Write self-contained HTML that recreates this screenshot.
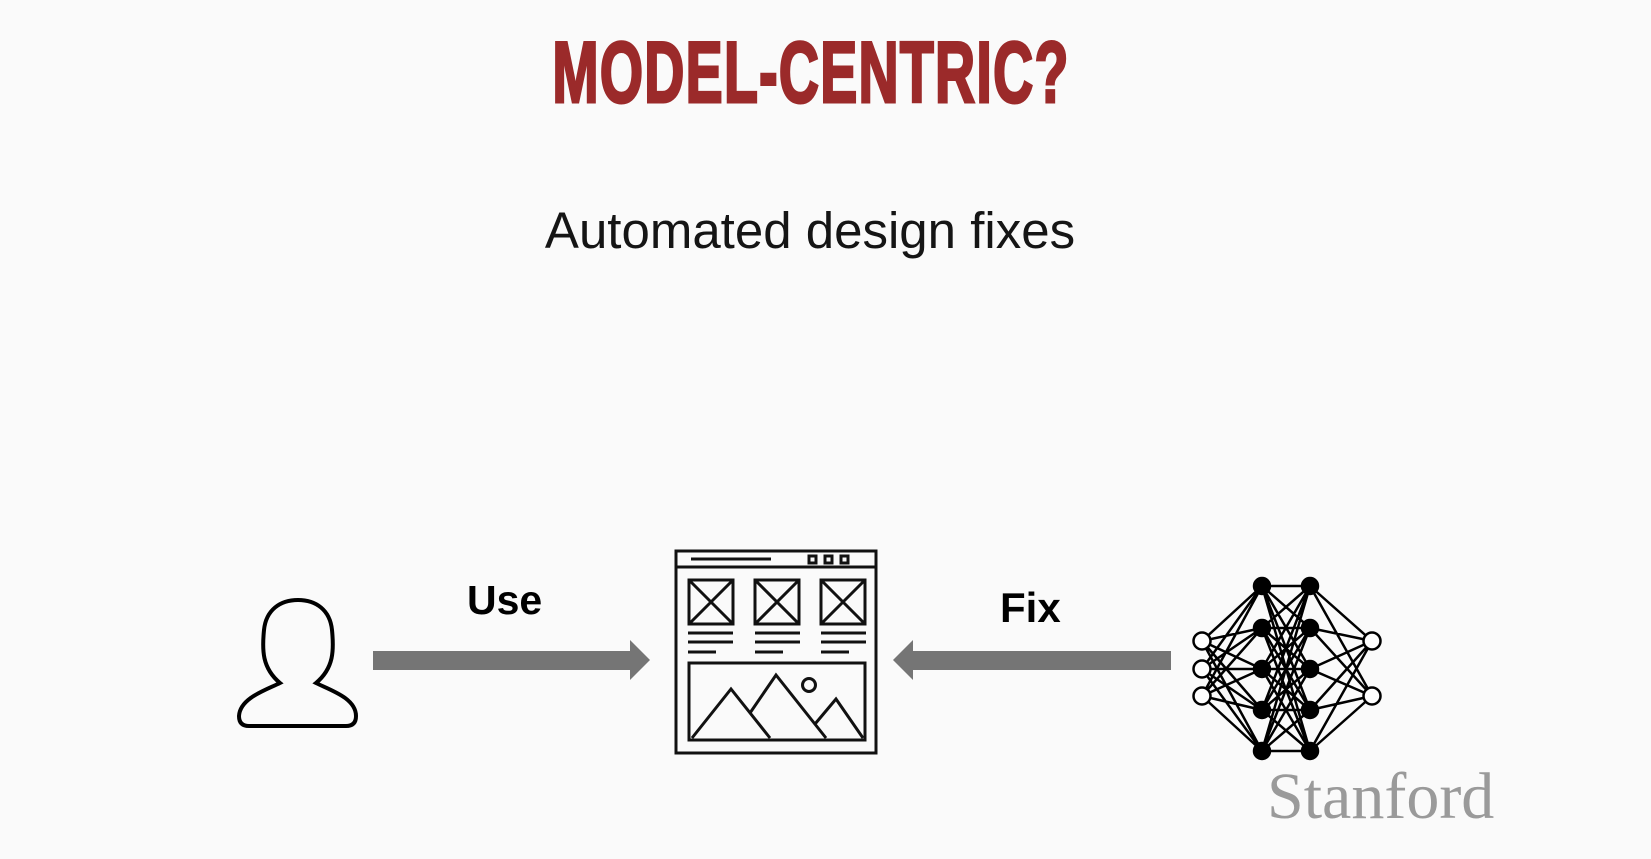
<!DOCTYPE html>
<html><head><meta charset="utf-8"><style>
html,body{margin:0;padding:0;background:#fafafa;}
body{width:1651px;height:859px;overflow:hidden;position:relative;font-family:"Liberation Sans",sans-serif;}
.t{position:absolute;white-space:nowrap;}
</style></head><body>
<div class="t" style="left:0;width:1622px;text-align:center;top:30px;font-family:'Liberation Sans Narrow','Liberation Sans',sans-serif;font-weight:bold;font-size:86px;line-height:86px;color:#9b2a2a;-webkit-text-stroke:3px #9b2a2a;transform:scaleX(0.645);transform-origin:811px 0;letter-spacing:2px;">MODEL-CENTRIC?</div>
<div class="t" style="left:510px;width:600px;text-align:center;top:202px;font-size:51px;line-height:58px;color:#151515;">Automated design fixes</div>
<div class="t" style="left:467px;top:576px;font-size:41px;line-height:48px;font-weight:bold;color:#000;">Use</div>
<div class="t" style="left:1000px;top:584px;font-size:42px;line-height:48px;font-weight:bold;color:#000;">Fix</div>
<div class="t" style="left:1267px;top:760px;font-family:'Liberation Serif',serif;font-size:66px;line-height:74px;color:#9a9a9a;">Stanford</div>
<svg width="1651" height="859" style="position:absolute;left:0;top:0" xmlns="http://www.w3.org/2000/svg">
<g fill="#757575">
<rect x="373" y="651" width="260" height="19"/>
<polygon points="630,640 650,660 630,680"/>
<rect x="913" y="651" width="258" height="19"/>
<polygon points="913,640 893,660 913,680"/>
</g>
<path d="M 280 683 C 262 668, 262 650, 264 630 C 266 610, 280 600, 298 600 C 316 600, 330 610, 332 630 C 334 650, 334 668, 316 683 C 330 690, 356 698, 356 716 Q 356 726, 346 726 L 249 726 Q 239 726, 239 716 C 240 698, 266 690, 280 683 Z" fill="none" stroke="#000" stroke-width="4"/>
<g fill="none" stroke="#111" stroke-width="3">
<rect x="676" y="551" width="200" height="202"/>
<line x1="676" y1="567" x2="876" y2="567"/>
<line x1="691" y1="559" x2="771" y2="559"/>
<rect x="809" y="556" width="7" height="7"/><rect x="825" y="556" width="7" height="7"/><rect x="841" y="556" width="7" height="7"/>
<rect x="689" y="580" width="44" height="44"/><path d="M689 580 L733 624 M733 580 L689 624"/>
<rect x="755" y="580" width="44" height="44"/><path d="M755 580 L799 624 M799 580 L755 624"/>
<rect x="821" y="580" width="44" height="44"/><path d="M821 580 L865 624 M865 580 L821 624"/>
<path d="M688 633 H733 M688 642 H733 M688 652 H716 M755 633 H800 M755 642 H800 M755 652 H783 M821 633 H866 M821 642 H866 M821 652 H849"/>
<rect x="689" y="663" width="176" height="77"/>
<path d="M692 738 L731 689 L770 738 M750 713 L776 675 L826 738 M815 724 L836 699 L863 738"/>
<circle cx="809" cy="685" r="6.5"/>
</g>
<g stroke="#000" stroke-width="2.5">
<path d="M1202 641 L1262 586 M1202 641 L1262 628 M1202 641 L1262 669 M1202 641 L1262 710 M1202 641 L1262 751
M1202 669 L1262 586 M1202 669 L1262 628 M1202 669 L1262 669 M1202 669 L1262 710 M1202 669 L1262 751
M1202 696 L1262 586 M1202 696 L1262 628 M1202 696 L1262 669 M1202 696 L1262 710 M1202 696 L1262 751
M1262 586 L1310 586 M1262 586 L1310 628 M1262 586 L1310 669 M1262 586 L1310 710 M1262 586 L1310 751
M1262 628 L1310 586 M1262 628 L1310 628 M1262 628 L1310 669 M1262 628 L1310 710 M1262 628 L1310 751
M1262 669 L1310 586 M1262 669 L1310 628 M1262 669 L1310 669 M1262 669 L1310 710 M1262 669 L1310 751
M1262 710 L1310 586 M1262 710 L1310 628 M1262 710 L1310 669 M1262 710 L1310 710 M1262 710 L1310 751
M1262 751 L1310 586 M1262 751 L1310 628 M1262 751 L1310 669 M1262 751 L1310 710 M1262 751 L1310 751
M1310 586 L1372 641 M1310 628 L1372 641 M1310 669 L1372 641 M1310 710 L1372 641 M1310 751 L1372 641
M1310 586 L1372 696 M1310 628 L1372 696 M1310 669 L1372 696 M1310 710 L1372 696 M1310 751 L1372 696"/>
<g fill="#fff"><circle cx="1202" cy="641" r="8.5"/><circle cx="1202" cy="669" r="8.5"/><circle cx="1202" cy="696" r="8.5"/><circle cx="1372" cy="641" r="8.5"/><circle cx="1372" cy="696" r="8.5"/></g>
<g fill="#000"><circle cx="1262" cy="586" r="8"/><circle cx="1262" cy="628" r="8"/><circle cx="1262" cy="669" r="8"/><circle cx="1262" cy="710" r="8"/><circle cx="1262" cy="751" r="8"/>
<circle cx="1310" cy="586" r="8"/><circle cx="1310" cy="628" r="8"/><circle cx="1310" cy="669" r="8"/><circle cx="1310" cy="710" r="8"/><circle cx="1310" cy="751" r="8"/></g>
</g>
</svg>
</body></html>
